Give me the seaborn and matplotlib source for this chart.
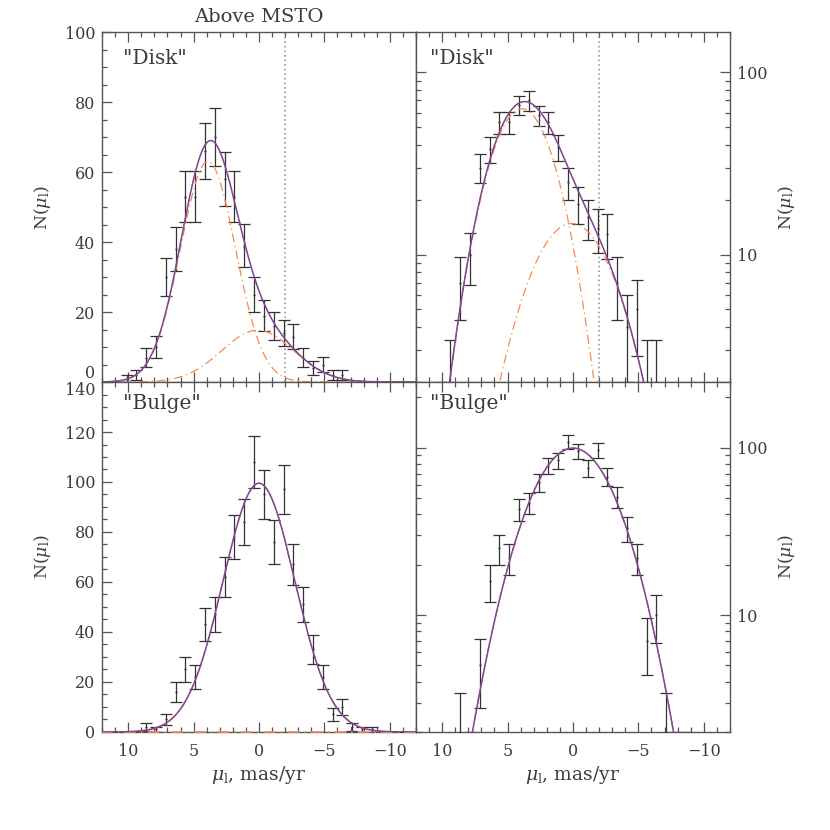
import numpy as np
import pandas as pd
import matplotlib
matplotlib.use('Agg')
import matplotlib.pyplot as plt
import seaborn as sns
from matplotlib.ticker import MultipleLocator, LogLocator, NullFormatter, FuncFormatter

# --- data ---
mu_bins = [11.625, 10.875, 10.125, 9.375, 8.625, 7.875, 7.125, 6.375,
           5.625, 4.875, 4.125, 3.375, 2.625, 1.875, 1.125, 0.375,
           -0.375, -1.125, -1.875, -2.625, -3.375, -4.125, -4.875, -5.625,
           -6.375, -7.125, -7.875, -8.625, -9.375, -10.125, -10.875, -11.625]

disk_counts = [0, 0, 1, 2, 7, 10, 30, 38,
               53, 53, 66, 70, 58, 53, 39, 25,
               19, 16, 14, 13, 7, 4, 5, 2,
               2, 0, 0, 0, 0, 0, 0, 0]

bulge_counts = [0, 0, 0, 0, 2, 1, 5, 16,
                25, 22, 43, 47, 62, 78, 84, 108,
                95, 76, 97, 67, 51, 33, 22, 7,
                10, 2, 1, 1, 0, 0, 0, 0]

# gaussian fit components: (amplitude, centre, sigma)
disk_fit_main = (63.0, 3.9, 2.1)
disk_fit_second = (14.8, 0.1, 2.75)
bulge_fit_main = (99.5, 0.0, 2.75)
bulge_fit_second = (0.0, 0.0, 2.75)

panel_names = ['"Disk"', '"Bulge"']
x_tick_values = [10, 5, 0, -5, -10]
msto_cut = -2.0

# --- style ---
sns.set_theme(style='ticks')
plt.rcParams['font.family'] = ['DejaVu Serif']
plt.rcParams['mathtext.fontset'] = 'dejavuserif'
text_col = '#3c3c3c'
frame_col = '#555555'
plt.rcParams.update({
    'text.color': text_col,
    'axes.labelcolor': text_col,
    'xtick.color': frame_col,
    'ytick.color': frame_col,
    'xtick.labelcolor': text_col,
    'ytick.labelcolor': text_col,
    'axes.edgecolor': frame_col,
    'axes.linewidth': 1.0,
})

purple = '#6a45a8'
red = '#e84a27'
orange = '#f58a55'
bar_col = '#333333'


def gauss(x, params):
    amp, cen, sig = params
    return amp * np.exp(-(x - cen) ** 2 / (2 * sig ** 2))


grid = np.linspace(-12, 12, 601)

fig, axes = plt.subplots(2, 2, figsize=(8.3, 8.3), dpi=100)
fig.subplots_adjust(left=0.1229, right=0.8795, top=0.9614, bottom=0.1181,
                    wspace=0, hspace=0)

datasets = [(disk_counts, disk_fit_main, disk_fit_second),
            (bulge_counts, bulge_fit_main, bulge_fit_second)]

for row, (counts, fit1, fit2) in enumerate(datasets):
    counts = np.array(counts, dtype=float)
    mu = np.array(mu_bins)
    c1 = gauss(grid, fit1)
    c2 = gauss(grid, fit2)
    curves = pd.DataFrame({'mu': grid, 'total': c1 + c2, 'c1': c1, 'c2': c2})

    for col in range(2):
        ax = axes[row, col]
        log = col == 1
        if log:
            ax.set_yscale('log')
            keep = counts > 0
        else:
            keep = np.ones_like(counts, dtype=bool)

        x = mu[keep]
        y = counts[keep]
        err = np.sqrt(y)
        ax.errorbar(x, y, yerr=err, fmt='none', ecolor=bar_col, elinewidth=0.9,
                    capsize=4, capthick=0.9, zorder=2)
        sns.scatterplot(x=x, y=y, s=2.5, color=bar_col, linewidth=0, ax=ax, zorder=3)

        # components
        sns.lineplot(data=curves, x='mu', y='c1', ax=ax, color=orange, lw=0.9,
                     linestyle=(0, (7, 3, 1, 3)), zorder=4)
        if fit2[0] > 0:
            sns.lineplot(data=curves, x='mu', y='c2', ax=ax, color=orange, lw=0.9,
                         linestyle=(0, (7, 3, 1, 3)), zorder=4)
        elif not log:
            sns.lineplot(data=curves, x='mu', y='c2', ax=ax, color=orange, lw=1.2,
                         linestyle=(0, (7, 3, 1, 3)), zorder=4, clip_on=False)
        # total fit
        sns.lineplot(data=curves, x='mu', y='total', ax=ax, color=purple, lw=1.1, zorder=5)
        sns.lineplot(data=curves, x='mu', y='total', ax=ax, color=red, lw=0.6,
                     alpha=0.3, zorder=6)

        if row == 0:
            ax.axvline(msto_cut, color='#8a8a8a', lw=1.1, linestyle=(0, (1, 2)), zorder=1)

        # axes ranges
        ax.set_xlim(12, -12)
        if log:
            ax.set_ylim(2, 166 if row == 0 else 247)
            ax.yaxis.set_major_locator(LogLocator(base=10))
            ax.yaxis.set_minor_locator(LogLocator(base=10, subs=np.arange(2, 10)))
            ax.yaxis.set_major_formatter(FuncFormatter(lambda v, p: f'{v:g}'))
            ax.yaxis.set_minor_formatter(NullFormatter())
        else:
            ax.set_ylim(0, 100 if row == 0 else 140)
            ax.yaxis.set_major_locator(MultipleLocator(20))
            ax.yaxis.set_minor_locator(MultipleLocator(5))

        ax.set_xticks(x_tick_values)
        ax.set_xticklabels(['\u2212' + str(-v) if v < 0 else str(v) for v in x_tick_values])
        ax.xaxis.set_minor_locator(MultipleLocator(1))

        ax.tick_params(axis='both', which='major', direction='in', length=7, width=0.9,
                       labelsize=11.5)
        ax.tick_params(axis='both', which='minor', direction='in', length=3.5, width=0.9)
        ax.tick_params(axis='x', which='both', top=True, bottom=True,
                       labelbottom=(row == 1), pad=8)
        if log:
            ax.tick_params(axis='y', which='both', left=True, right=True,
                           labelleft=False, labelright=True, pad=5)
            ax.yaxis.set_label_position('right')
            ax.set_ylabel(r'N($\mu_{\rm l}$)', fontsize=12.5, labelpad=6)
        else:
            ax.tick_params(axis='y', which='both', left=True, right=False, pad=5)
            ax.set_ylabel(r'N($\mu_{\rm l}$)', fontsize=12.5, labelpad=8)

        if row == 1:
            ax.set_xlabel(r'$\mu_{\rm l}$, mas/yr', fontsize=13.5, labelpad=3)
        else:
            ax.set_xlabel('')

        tx = 0.045 if log else 0.068
        ty = 0.925 if row == 0 else 0.94
        ax.text(tx, ty, panel_names[row], transform=ax.transAxes, ha='left',
                va='center', fontsize=14.5)

        for side in ['top', 'right', 'bottom', 'left']:
            ax.spines[side].set_visible(True)

# the "0" of the upper panel and the "140" of the lower one share the same edge
fig.canvas.draw()
for lab in axes[0, 0].get_yticklabels():
    if lab.get_text() == '0':
        lab.set_va('bottom')
for lab in axes[1, 0].get_yticklabels():
    if lab.get_text() == '140':
        lab.set_va('top')

axes[0, 0].set_title('Above MSTO', fontsize=14, pad=7)

fig.savefig('out.png', dpi=100)
